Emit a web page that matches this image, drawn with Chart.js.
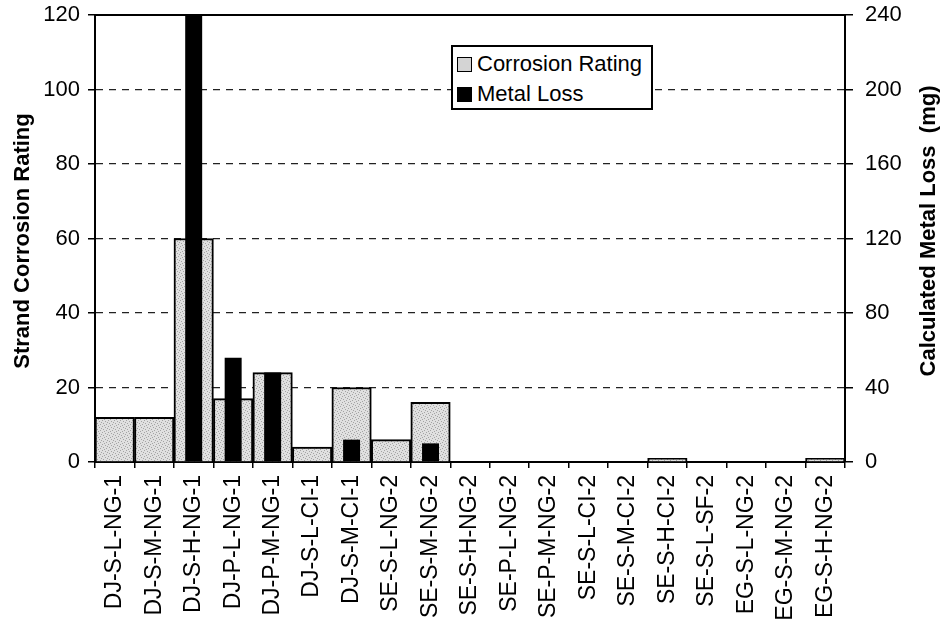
<!DOCTYPE html>
<html>
<head>
<meta charset="utf-8">
<script src="https://cdn.jsdelivr.net/npm/chart.js@4.4.0/dist/chart.umd.min.js"></script>
<style>
  body { margin: 0; background: #fff; }
  #wrap { position: relative; width: 946px; height: 626px; }
  #legenda {
    position: absolute; left: 451px; top: 45px; width: 198px; height: 61px;
    border: 2px solid #000; background: #fff;
    font-family: "Liberation Sans", Arial, sans-serif; font-size: 22px; color: #000;
  }
  .item { position: absolute; left: 4px; height: 24px; line-height: 24px; white-space: nowrap; }
  .box { display: inline-block; width: 13px; height: 13px; border: 1px solid #000; vertical-align: -1px; margin-right: 5px; }
</style>
</head>
<body>
<div id="wrap">
  <canvas id="grafico" width="946" height="626"></canvas>
  <div id="legenda">
    <div class="item" style="top:5px"><span class="box" style="background:#d4d4d4"></span>Corrosion Rating</div>
    <div class="item" style="top:35px"><span class="box" style="background:#000"></span>Metal Loss</div>
  </div>
</div>
<script>
const categorias = ["DJ-S-L-NG-1", "DJ-S-M-NG-1", "DJ-S-H-NG-1", "DJ-P-L-NG-1", "DJ-P-M-NG-1",
    "DJ-S-L-CI-1", "DJ-S-M-CI-1", "SE-S-L-NG-2", "SE-S-M-NG-2", "SE-S-H-NG-2", "SE-P-L-NG-2",
    "SE-P-M-NG-2", "SE-S-L-CI-2", "SE-S-M-CI-2", "SE-S-H-CI-2", "SE-S-L-SF-2", "EG-S-L-NG-2",
    "EG-S-M-NG-2", "EG-S-H-NG-2"];
const corrosao = [12, 12, 60, 17, 24, 4, 20, 6, 16, 0, 0, 0, 0, 0, 1, 0, 0, 0, 1];
const perdaMetal = [0, 0, 270, 56, 48, 0, 12, 0, 10, 0, 0, 0, 0, 0, 0, 0, 0, 0, 0];
const ticksEsq = [0, 20, 40, 60, 80, 100, 120];
const ticksDir = [0, 40, 80, 120, 160, 200, 240];

// textura pontilhada para as barras cinzas
function textura() {
    const c = document.createElement('canvas');
    c.width = 6; c.height = 6;
    const g = c.getContext('2d');
    g.fillStyle = '#e0e0e0';
    g.fillRect(0, 0, 6, 6);
    g.fillStyle = '#a4a4a4';
    [[0, 0], [3, 1], [1, 3], [4, 4], [2, 5], [5, 2]].forEach(p => g.fillRect(p[0], p[1], 1, 1));
    return g.createPattern(c, 'repeat');
}

const fonte = '"Liberation Sans", Arial, sans-serif';

// titulos dos eixos (ambos lidos de baixo para cima)
function titulo(ctx, texto, x, y) {
    ctx.save();
    ctx.font = 'bold 22px ' + fonte;
    ctx.fillStyle = '#000';
    ctx.textAlign = 'center';
    ctx.textBaseline = 'middle';
    ctx.translate(x, y);
    ctx.rotate(-Math.PI / 2);
    ctx.fillText(texto, 0, 0);
    ctx.restore();
}

const titulos = {
    id: 'titulos',
    afterDraw(chart) {
        titulo(chart.ctx, 'Strand Corrosion Rating', 23, 241);
        titulo(chart.ctx, 'Calculated Metal Loss  (mg)', 929, 231);
    }
};

// sem folga extra de layout por causa dos rótulos
const semPadding = s => { s.paddingTop = 0; s.paddingBottom = 0; s.paddingLeft = 0; s.paddingRight = 0; };

document.addEventListener("DOMContentLoaded", () => {
    const ctx = document.getElementById('grafico').getContext('2d');
    new Chart(ctx, {
        type: 'bar',
        data: {
            labels: categorias,
            datasets: [
                { label: 'Corrosion Rating', data: corrosao, yAxisID: 'y', order: 1,
                  backgroundColor: textura(), borderColor: '#000', borderWidth: 2,
                  barPercentage: 1, categoryPercentage: 1 },
                { label: 'Metal Loss', data: perdaMetal, yAxisID: 'y2', order: 0,
                  backgroundColor: '#000', borderWidth: 0,
                  barPercentage: 0.43, categoryPercentage: 1 }
            ]
        },
        options: {
            responsive: false,
            animation: false,
            layout: { padding: 0 },
            datasets: { bar: { grouped: false } },
            plugins: { legend: { display: false }, tooltip: { enabled: false } },
            scales: {
                x: {
                    position: 'bottom',
                    afterFit: s => { s.height = 164; semPadding(s); },
                    grid: { display: true, drawOnChartArea: false, offset: true, color: '#000', tickLength: 6, lineWidth: 1.5 },
                    border: { display: true, color: '#000', width: 2 },
                    ticks: { autoSkip: false, minRotation: 90, maxRotation: 90, padding: 7, color: '#000', font: { family: fonte, size: 23 } }
                },
                xTopo: {
                    position: 'top',
                    afterFit: s => { s.height = 15; semPadding(s); },
                    grid: { display: false },
                    border: { display: true, color: '#000', width: 2 },
                    ticks: { display: false }
                },
                y: {
                    position: 'left', min: 0, max: 120,
                    afterFit: s => { s.width = 95; semPadding(s); },
                    afterBuildTicks: s => { s.ticks = ticksEsq.map(v => ({ value: v })); },
                    grid: {
                        color: c => (c.tick && (c.tick.value === 0 || c.tick.value === 120)) ? 'rgba(0,0,0,0)' : '#222',
                        lineWidth: 1.3, tickColor: '#000', tickLength: 7, tickWidth: 1.5, tickBorderDash: [1, 0]
                    },
                    border: { display: true, color: '#000', width: 2, dash: [7, 6] },
                    ticks: { padding: 8, color: '#000', font: { family: fonte, size: 22 } }
                },
                y2: {
                    position: 'right', min: 0, max: 240,
                    afterFit: s => { s.width = 101; semPadding(s); },
                    afterBuildTicks: s => { s.ticks = ticksDir.map(v => ({ value: v })); },
                    grid: { drawOnChartArea: false, color: '#000', tickLength: 8, lineWidth: 1.5 },
                    border: { display: true, color: '#000', width: 2 },
                    ticks: { padding: 12, color: '#000', font: { family: fonte, size: 22 } }
                }
            }
        },
        plugins: [titulos]
    });
});
</script>
</body>
</html>
